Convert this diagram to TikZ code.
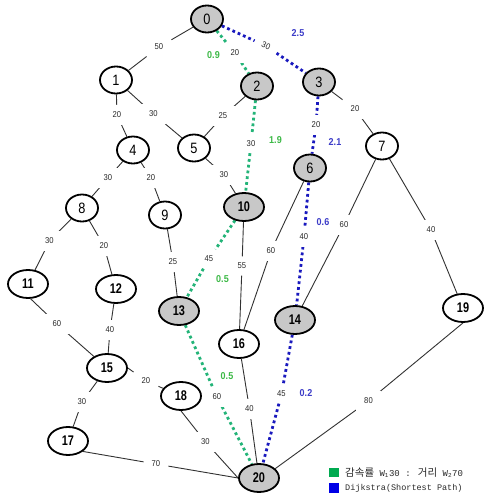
\documentclass[tikz,border=0pt]{standalone}
\usepackage{fontspec}
\setmainfont{Liberation Sans}
\newfontfamily\numfont[FakeStretch=0.85]{Liberation Sans}
\newfontfamily\numboldfont[FakeStretch=0.78]{Liberation Sans}
\newfontfamily\lblfont[FakeStretch=0.9]{Liberation Sans}
\newfontfamily\krfont{Noto Sans CJK KR}
\newfontfamily\legmono{Liberation Mono}
\usetikzlibrary{shapes.geometric}
\pgfdeclarelayer{background}
\pgfsetlayers{background,main}

\definecolor{hotgray}{RGB}{200,200,200}
\definecolor{edgegray}{RGB}{50,50,50}
\definecolor{lbltext}{RGB}{40,40,40}
\definecolor{dijblue}{RGB}{25,25,190}
\definecolor{dijtext}{RGB}{60,60,200}
\definecolor{mixgreen}{RGB}{35,180,120}
\definecolor{mixtext}{RGB}{60,185,70}
\definecolor{leggreen}{RGB}{0,170,80}
\definecolor{legblue}{RGB}{0,0,230}

\tikzset{
  vtx/.style={ellipse, draw=black, line width=1.8pt, fill=white, inner sep=0pt,
    minimum width=32pt, minimum height=27pt,
    font=\numfont\fontsize{15}{15}\selectfont},
  vtxw/.style={vtx, minimum width=40pt, minimum height=28pt,
    font=\numboldfont\bfseries\fontsize{14}{14}\selectfont},
  hot/.style={fill=hotgray},
  wt/.style={fill=white, inner xsep=8pt, inner ysep=6.5pt, text=lbltext,
    font=\lblfont\fontsize{8.5}{8.5}\selectfont},
  score/.style={inner sep=1pt, font=\lblfont\bfseries\fontsize{10}{10}\selectfont},
  edge/.style={draw=edgegray, line width=0.9pt},
  bluepath/.style={draw=dijblue, line width=2.8pt, dash pattern=on 2.8pt off 3pt},
  greenpath/.style={draw=mixgreen, line width=2.8pt, dash pattern=on 2.8pt off 3pt},
  keybox/.style={minimum size=9.5pt, inner sep=0pt},
  keytext/.style={anchor=west, inner sep=1pt, text=lbltext}
}

\begin{document}
\begin{tikzpicture}[x=1pt,y=-1pt]
\useasboundingbox (0,0) rectangle (484,499);

% vertices
\node[vtx,hot]  (n0)  at (207,19)  {0};
\node[vtx]      (n1)  at (116,80)  {1};
\node[vtx,hot]  (n2)  at (257,86)  {2};
\node[vtx,hot]  (n3)  at (319,82)  {3};
\node[vtx]      (n4)  at (133,150) {4};
\node[vtx]      (n5)  at (194,148) {5};
\node[vtx,hot]  (n6)  at (310,168) {6};
\node[vtx]      (n7)  at (382,146) {7};
\node[vtx]      (n8)  at (82,208)  {8};
\node[vtx]      (n9)  at (165,215) {9};
\node[vtxw,hot] (n10) at (244,207) {10};
\node[vtxw]     (n11) at (28,284)  {11};
\node[vtxw]     (n12) at (116,289) {12};
\node[vtxw,hot] (n13) at (179,311) {13};
\node[vtxw,hot] (n14) at (295,320) {14};
\node[vtxw]     (n15) at (107,368) {15};
\node[vtxw]     (n16) at (239,344) {16};
\node[vtxw]     (n17) at (68,441)  {17};
\node[vtxw]     (n18) at (181,396) {18};
\node[vtxw]     (n19) at (463,308) {19};
\node[vtxw,hot] (n20) at (259,478) {20};

% edge weights
\node[wt] (e0x1)   at (159,47)    {50};
\node[wt] (e0x2)   at (235,53)    {20};
\node[wt,rotate=-25] (e0x3) at (266,46) {30};
\node[wt] (e1x4)   at (117,115)   {20};
\node[wt] (e1x5)   at (153.5,114) {30};
\node[wt] (e2x5)   at (223,116)   {25};
\node[wt] (e2x10)  at (251,143.5) {30};
\node[wt] (e3x6)   at (316,125)   {20};
\node[wt] (e3x7)   at (355,109)   {20};
\node[wt] (e4x8)   at (108,178)   {30};
\node[wt] (e4x9)   at (151,178)   {20};
\node[wt] (e5x10)  at (224,175)   {30};
\node[wt] (e6x14)  at (304,237)   {40};
\node[wt] (e6x16)  at (271,251)   {60};
\node[wt] (e7x14)  at (344,225)   {60};
\node[wt] (e7x19)  at (431,230)   {40};
\node[wt] (e8x11)  at (49.5,241)  {30};
\node[wt] (e8x12)  at (104,246)   {20};
\node[wt] (e9x13)  at (173,262)   {25};
\node[wt] (e10x13) at (209,259)   {45};
\node[wt] (e10x16) at (242,266)   {55};
\node[wt] (e11x15) at (57,324)    {60};
\node[wt] (e12x15) at (110,330)   {40};
\node[wt] (e13x20) at (217,397)   {60};
\node[wt] (e14x20) at (281.5,394) {45};
\node[wt] (e15x17) at (82,402)    {30};
\node[wt] (e15x18) at (146,381)   {20};
\node[wt] (e16x20) at (249.5,409) {40};
\node[wt] (e17x20) at (156,464)   {70};
\node[wt] (e18x20) at (205.5,442) {30};
\node[wt] (e19x20) at (368.5,401) {80};

% connectors, kept beneath the vertices and weights
\begin{pgfonlayer}{background}
\fill[white] (0,0) rectangle (484,499);
\draw[edge] (n0) -- (e0x1) -- (n1);
\draw[edge] (n1) -- (e1x4) -- (n4);
\draw[edge] (n1) -- (e1x5) -- (n5);
\draw[edge] (n2) -- (e2x5) -- (n5);
\draw[edge] (n3) -- (e3x7) -- (n7);
\draw[edge] (n4) -- (e4x8) -- (n8);
\draw[edge] (n4) -- (e4x9) -- (n9);
\draw[edge] (n5) -- (e5x10) -- (n10);
\draw[edge] (n6) -- (e6x16) -- (n16);
\draw[edge] (n7) -- (e7x14) -- (n14);
\draw[edge] (n7) -- (e7x19) -- (n19);
\draw[edge] (n8) -- (e8x11) -- (n11);
\draw[edge] (n8) -- (e8x12) -- (n12);
\draw[edge] (n9) -- (e9x13) -- (n13);
\draw[edge] (n10) -- (e10x16) -- (n16);
\draw[edge] (n11.-80) -- (e11x15) -- (n15);
\draw[edge] (n12) -- (e12x15) -- (n15);
\draw[edge] (n15) -- (e15x17) -- (n17);
\draw[edge] (n15.east) -- (e15x18) -- (n18);
\draw[edge] (n16) -- (e16x20) -- (n20);
\draw[edge] (n17.-35) -- (e17x20) -- (n20.west);
\draw[edge] (n18.south) -- (e18x20) -- (n20.west);
\draw[edge] (n19.south) -- (e19x20) -- (n20.30);
% weighted route
\draw[greenpath] (n0) -- (e0x2) -- (n2);
\draw[greenpath] (n2) -- (e2x10) -- (n10);
\draw[greenpath] (n10) -- (e10x13) -- (n13);
\draw[greenpath] (n13) -- (e13x20) -- (n20);
% shortest route
\draw[bluepath] (n0) -- (e0x3) -- (n3);
\draw[bluepath] (n3) -- (e3x6) -- (n6);
\draw[bluepath] (n6) -- (e6x14) -- (n14);
\draw[bluepath] (n14) -- (e14x20) -- (n20);
\end{pgfonlayer}

% route scores
\node[score,text=mixtext] (s1) at (213.5,55)  {0.9};
\node[score,text=dijtext] (s2) at (298,33)    {2.5};
\node[score,text=mixtext] (s3) at (275.5,140) {1.9};
\node[score,text=dijtext] (s4) at (335,142)   {2.1};
\node[score,text=dijtext] (s5) at (323,222)   {0.6};
\node[score,text=mixtext] (s6) at (222.5,279) {0.5};
\node[score,text=mixtext] (s7) at (227,376)   {0.5};
\node[score,text=dijtext] (s8) at (306,393)   {0.2};

% legend
\node[keybox,fill=leggreen] (kg) at (334,472.5) {};
\node[keybox,fill=legblue]  (kb) at (334,488)   {};
\node[keytext] (tg) at (344,472.5)
  {\legmono\fontsize{9}{9}\selectfont{\krfont\fontsize{10.5}{10.5}\selectfont 감속률} W\textsubscript{1}30 : {\krfont\fontsize{10.5}{10.5}\selectfont 거리} W\textsubscript{2}70};
\node[keytext] (tb) at (344,488)
  {\legmono\fontsize{8.5}{8.5}\selectfont Dijkstra(Shortest Path)};
\end{tikzpicture}
\end{document}
